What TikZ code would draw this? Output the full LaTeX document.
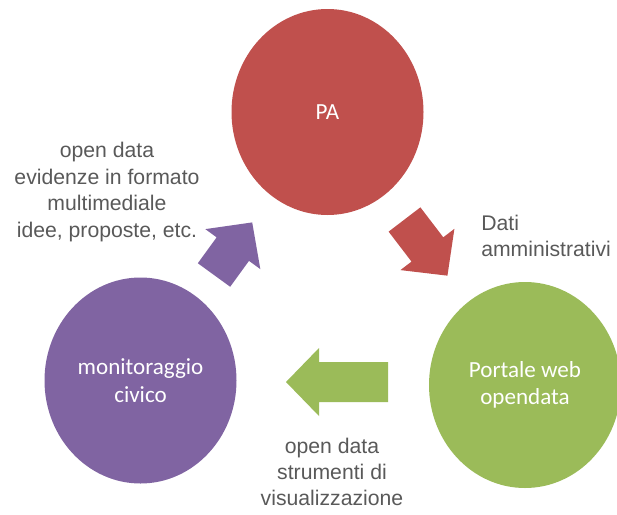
\documentclass[tikz,border=0pt]{standalone}
\usepackage{fontspec}
\setmainfont{Liberation Sans}
\newfontfamily\carlito{Carlito}
\usetikzlibrary{shapes.geometric}
\definecolor{pared}{HTML}{C0504D}
\definecolor{pagreen}{HTML}{9BBB59}
\definecolor{papurple}{HTML}{8064A2}
\definecolor{txtgray}{HTML}{595959}
\newcommand\blockarrow[5]{%
  \begin{scope}[shift={(#2,#3)},rotate=#4]
    \fill[#1] (0,-20) -- (#5-33,-20) -- (#5-33,-34) -- (#5,0) -- (#5-33,34) -- (#5-33,20) -- (0,20) -- cycle;
  \end{scope}}
\begin{document}
\begin{tikzpicture}[x=0.75pt,y=-0.75pt,
  circ/.style={ellipse, minimum width=144pt, minimum height=154.5pt, inner sep=0pt,
    text=white, font=\carlito\fontsize{17.3}{20.5}\selectfont, align=center},
  lbl/.style={text=txtgray, font=\fontsize{15.9}{19.8}\selectfont, inner sep=0pt}]
\useasboundingbox (0,0) rectangle (617,514);
\node[circ, fill=pared] (pa) at (327.5,112) {PA};
\node[circ, fill=papurple] (mon) at (140.5,380.5) {monitoraggio\\civico};
\node[circ, fill=pagreen] (web) at (525,385) {Portale web\\opendata};
\blockarrow{pared}{404.5}{219.5}{-52.6}{70.7}
\blockarrow{papurple}{214}{275}{54}{65}
\blockarrow{pagreen}{388}{382}{180}{102}
\node[lbl, align=center] (lt) at (107,192) {open data\\evidenze in formato\\multimediale\\idee, proposte, etc.};
\node[lbl, align=left, anchor=west] (rt) at (481,236) {Dati\\amministrativi};
\node[lbl, align=center] (bt) at (332,472) {open data\\strumenti di\\visualizzazione};
\end{tikzpicture}
\end{document}
